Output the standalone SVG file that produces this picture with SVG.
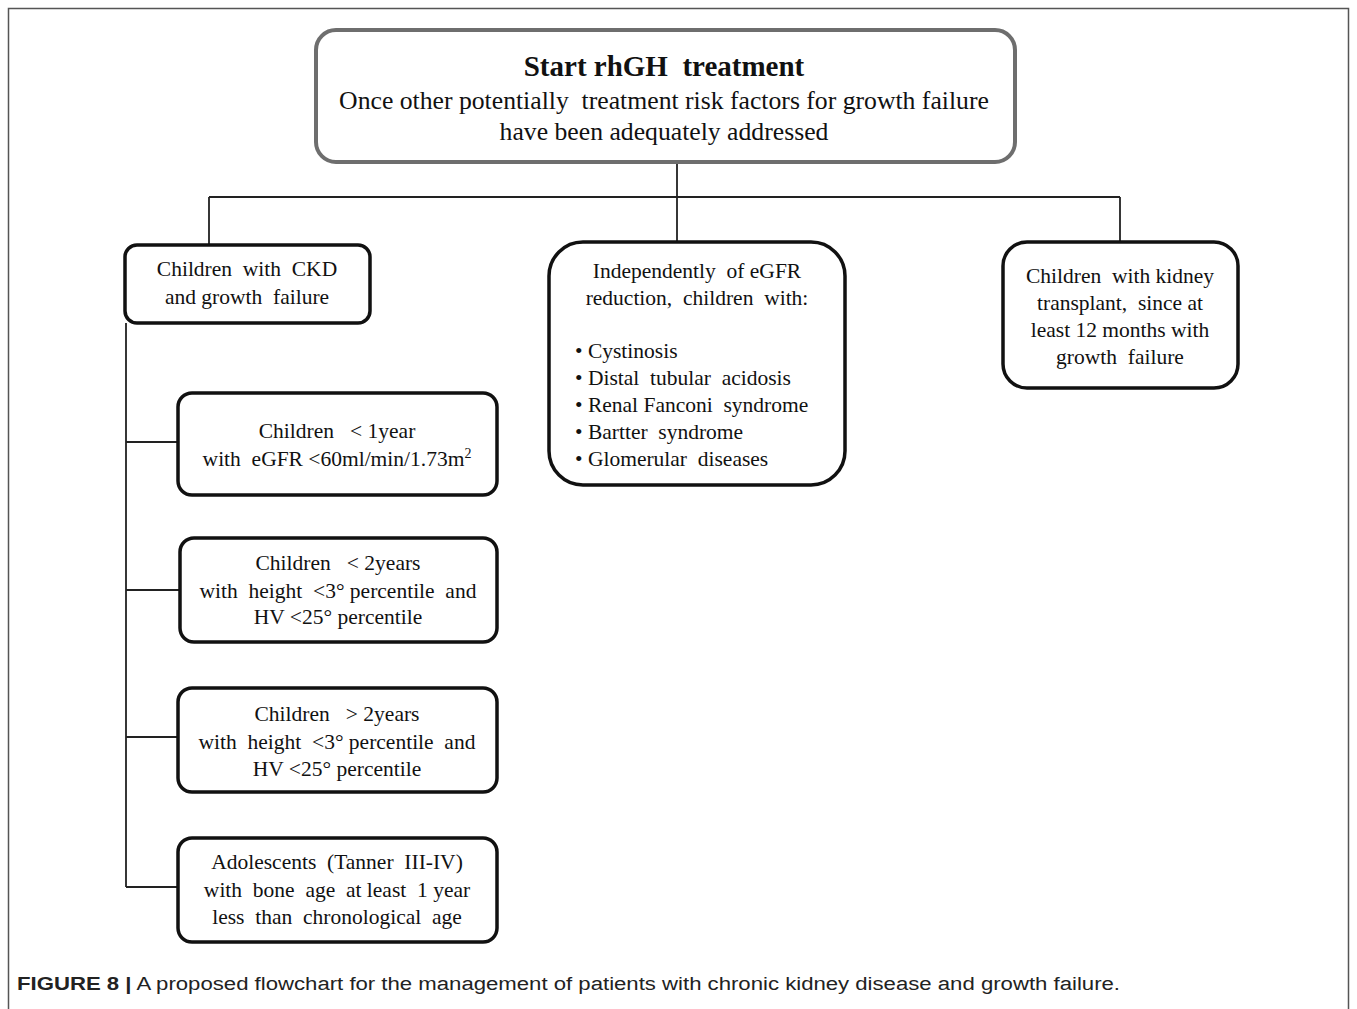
<svg xmlns="http://www.w3.org/2000/svg" width="1357" height="1009" viewBox="0 0 1357 1009">
<style>
.t{font-family:"Liberation Serif","Times New Roman",serif;fill:#111;text-anchor:middle;white-space:pre;font-size:21.5px}
.tl{font-family:"Liberation Serif","Times New Roman",serif;fill:#111;white-space:pre;font-size:21.5px}
.box{fill:#fff;stroke:#111;stroke-width:3.5}
.top{fill:#fff;stroke:#6e6e6e;stroke-width:4}
.ln{fill:none;stroke:#222;stroke-width:1.8}
.cap{font-family:"Liberation Sans",Arial,sans-serif;font-size:18px;fill:#222}
</style>
<rect x="0" y="0" width="1357" height="1009" fill="#fff"/>
<path d="M8.5,1009 V8.5 H1348.5 V1009" fill="none" stroke="#555" stroke-width="1.5"/>
<g id="connectors">
<path class="ln" d="M677,163 V197 M209,197 H1120 M209,197 V245 M677,197 V242 M1120,197 V242"/>
<path class="ln" d="M126,323 V887 M126,442 H178 M126,590 H180 M126,737 H178 M126,887 H178"/>
</g>
<g id="start">
<rect class="top" x="316" y="30" width="699" height="132" rx="20"/>
<text class="t" x="664" y="76" style="font-size:29px" font-weight="bold">Start rhGH  treatment</text>
<text class="t" x="664" y="109" style="font-size:25.7px">Once other potentially  treatment risk factors for growth failure</text>
<text class="t" x="664" y="140" style="font-size:25.7px">have been adequately addressed</text>
</g>
<g id="ckd">
<rect class="box" x="125" y="245" width="245" height="78" rx="12"/>
<text class="t" x="247" y="276">Children  with  CKD</text>
<text class="t" x="247" y="304">and growth  failure</text>
</g>
<g id="independent">
<rect class="box" x="549" y="242" width="296" height="243" rx="34"/>
<text class="t" x="697" y="278">Independently  of eGFR</text>
<text class="t" x="697" y="305">reduction,  children  with:</text>
<text class="tl" x="575" y="358">• Cystinosis</text>
<text class="tl" x="575" y="385">• Distal  tubular  acidosis</text>
<text class="tl" x="575" y="412">• Renal Fanconi  syndrome</text>
<text class="tl" x="575" y="439">• Bartter  syndrome</text>
<text class="tl" x="575" y="466">• Glomerular  diseases</text>
</g>
<g id="transplant">
<rect class="box" x="1003" y="242" width="235" height="146" rx="24"/>
<text class="t" x="1120" y="283">Children  with kidney</text>
<text class="t" x="1120" y="310">transplant,  since at</text>
<text class="t" x="1120" y="337">least 12 months with</text>
<text class="t" x="1120" y="364">growth  failure</text>
</g>
<g id="lt1year">
<rect class="box" x="178" y="393" width="319" height="102" rx="14"/>
<text class="t" x="337" y="438">Children   &lt; 1year</text>
<text class="t" x="337" y="466">with  eGFR &lt;60ml/min/1.73m<tspan style="font-size:14px" dy="-8">2</tspan></text>
</g>
<g id="lt2years">
<rect class="box" x="180" y="538" width="317" height="104" rx="14"/>
<text class="t" x="338" y="570">Children   &lt; 2years</text>
<text class="t" x="338" y="598">with  height  &lt;3° percentile  and</text>
<text class="t" x="338" y="624">HV &lt;25° percentile</text>
</g>
<g id="gt2years">
<rect class="box" x="178" y="688" width="319" height="104" rx="14"/>
<text class="t" x="337" y="721">Children   &gt; 2years</text>
<text class="t" x="337" y="749">with  height  &lt;3° percentile  and</text>
<text class="t" x="337" y="776">HV &lt;25° percentile</text>
</g>
<g id="adolescents">
<rect class="box" x="178" y="838" width="319" height="104" rx="14"/>
<text class="t" x="337" y="869">Adolescents  (Tanner  III-IV)</text>
<text class="t" x="337" y="897">with  bone  age  at least  1 year</text>
<text class="t" x="337" y="924">less  than  chronological  age</text>
</g>
<text class="cap" x="17" y="990" textLength="1103" lengthAdjust="spacingAndGlyphs"><tspan font-weight="bold">FIGURE 8 |</tspan> A proposed flowchart for the management of patients with chronic kidney disease and growth failure.</text>
</svg>
